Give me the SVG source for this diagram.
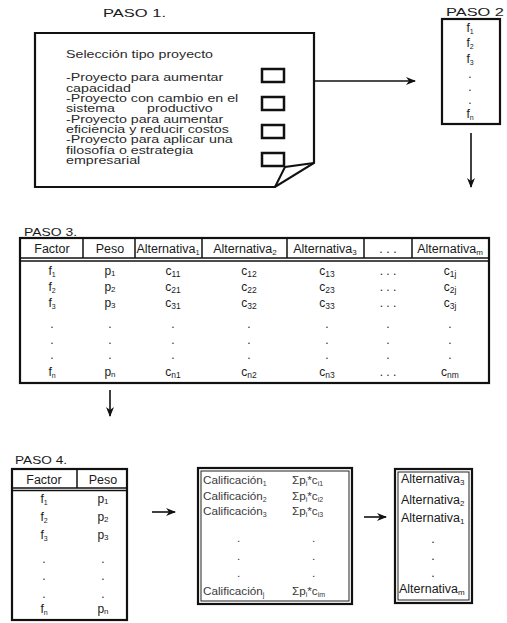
<svg xmlns="http://www.w3.org/2000/svg" width="507" height="623" viewBox="0 0 507 623">
  <defs>
    <marker id="arrow" viewBox="0 0 10 10" refX="9" refY="5" markerWidth="10" markerHeight="10" markerUnits="userSpaceOnUse" orient="auto">
      <path d="M0,1 L10,5 L0,9 L3,5 Z" fill="#111"/>
    </marker>
    <style>
      text { font-family: "Liberation Sans", Arial, sans-serif; fill: #1a1a1a; }
      .lbl { font-size: 11px; }
      .p1 { font-size: 10.7px; fill: #2a2a2a; }
      .hd { font-size: 12.5px; text-anchor: middle; }
      .bd { font-size: 12px; text-anchor: middle; }
      .cal { font-size: 11.7px; fill: #3a3a3a; }
      .alt { font-size: 12.5px; }
      .frame { fill: #fff; stroke: #111; stroke-width: 2.2; }
      .thin { fill: none; stroke: #222; stroke-width: 1; }
      .sep { stroke: #111; stroke-width: 1.5; }
      .box { fill: #fff; stroke: #111; stroke-width: 2.5; }
      .conn { fill: none; stroke: #111; stroke-width: 1.6; marker-end: url(#arrow); }
    </style>
  </defs>
  <rect width="507" height="623" fill="#fff"/>

  <!-- Step 1: project type selection sheet -->
  <g id="paso1">
    <text class="lbl" x="103" y="17" textLength="63" lengthAdjust="spacingAndGlyphs">PASO 1.</text>
    <path class="frame" d="M35,33 H314 V163 L275,187 H35 Z"/>
    <path d="M314,163 L285,167 L275,187" fill="none" stroke="#111" stroke-width="2"/>
    <g transform="translate(66,0) scale(1.33,1)">
      <text class="p1" x="0" y="58">Selección tipo proyecto</text>
      <text class="p1" x="0" y="81.5">-Proyecto para aumentar</text>
      <text class="p1" x="0" y="91.8">capacidad</text>
      <text class="p1" x="0" y="102.1">-Proyecto con cambio en el</text>
      <text class="p1" x="0" y="112.4">sistema</text>
      <text class="p1" x="61" y="112.4">productivo</text>
      <text class="p1" x="0" y="122.7">-Proyecto para aumentar</text>
      <text class="p1" x="0" y="133">eficiencia y reducir costos</text>
      <text class="p1" x="0" y="143.3">-Proyecto para aplicar una</text>
      <text class="p1" x="0" y="153.6">filosofía o estrategia</text>
      <text class="p1" x="0" y="163.9">empresarial</text>
    </g>
    <rect class="box" x="262" y="69" width="22" height="13"/>
    <rect class="box" x="262" y="97" width="22" height="13"/>
    <rect class="box" x="262" y="125" width="22" height="13"/>
    <rect class="box" x="262" y="153" width="22" height="13"/>
  </g>

  <!-- Step 2: list of factors -->
  <g id="paso2">
    <text class="lbl" x="446" y="16" textLength="58" lengthAdjust="spacingAndGlyphs">PASO 2</text>
    <rect class="frame" x="442" y="19" width="58" height="105"/>
    <text class="bd" x="470" y="32">f<tspan font-size="7" dy="2">1</tspan></text>
    <text class="bd" x="470" y="47">f<tspan font-size="7" dy="2">2</tspan></text>
    <text class="bd" x="470" y="63">f<tspan font-size="7" dy="2">3</tspan></text>
    <text class="bd" x="470" y="78">.</text>
    <text class="bd" x="470" y="91">.</text>
    <text class="bd" x="470" y="104">.</text>
    <text class="bd" x="470" y="118">f<tspan font-size="7" dy="2">n</tspan></text>
  </g>

  <!-- Step 3: evaluation matrix -->
  <g id="paso3">
    <text class="lbl" x="24" y="236" font-size="12" textLength="53" lengthAdjust="spacingAndGlyphs">PASO 3.</text>
    <rect class="frame" x="20" y="238" width="469" height="145"/>
    <line class="sep" x1="20" y1="258" x2="489" y2="258"/>
    <line class="sep" x1="20" y1="261" x2="489" y2="261"/>
    <line class="sep" x1="83" y1="238" x2="83" y2="258"/>
    <line class="sep" x1="135" y1="238" x2="135" y2="258"/>
    <line class="sep" x1="202" y1="238" x2="202" y2="258"/>
    <line class="sep" x1="287" y1="238" x2="287" y2="258"/>
    <line class="sep" x1="364" y1="238" x2="364" y2="258"/>
    <line class="sep" x1="412" y1="238" x2="412" y2="258"/>
    <text class="hd" x="52" y="253" font-size="13">Factor</text>
    <text class="hd" x="110" y="253" font-size="13">Peso</text>
    <text class="hd" x="168" y="253" font-size="11.5">Alternativa<tspan font-size="7.5" dy="2">1</tspan></text>
    <text class="hd" x="245" y="253">Alternativa<tspan font-size="8" dy="2">2</tspan></text>
    <text class="hd" x="325" y="253">Alternativa<tspan font-size="8" dy="2">3</tspan></text>
    <text class="hd" x="388" y="253">. . .</text>
    <text class="hd" x="450" y="253">Alternativa<tspan font-size="8" dy="2">m</tspan></text>

    <g class="rows">
      <text class="bd" x="52" y="275">f<tspan font-size="7" dy="2">1</tspan></text>
      <text class="bd" x="110" y="275">p<tspan font-size="8" dy="1">1</tspan></text>
      <text class="bd" x="173" y="275">c<tspan font-size="8.5" dy="2">11</tspan></text>
      <text class="bd" x="249" y="275">c<tspan font-size="8.5" dy="2">12</tspan></text>
      <text class="bd" x="327" y="275">c<tspan font-size="8.5" dy="2">13</tspan></text>
      <text class="bd" x="388" y="275">. . .</text>
      <text class="bd" x="450" y="275">c<tspan font-size="8.5" dy="2">1j</tspan></text>

      <text class="bd" x="52" y="291">f<tspan font-size="7" dy="2">2</tspan></text>
      <text class="bd" x="110" y="291">p<tspan font-size="8" dy="1">2</tspan></text>
      <text class="bd" x="173" y="291">c<tspan font-size="8.5" dy="2">21</tspan></text>
      <text class="bd" x="249" y="291">c<tspan font-size="8.5" dy="2">22</tspan></text>
      <text class="bd" x="327" y="291">c<tspan font-size="8.5" dy="2">23</tspan></text>
      <text class="bd" x="388" y="291">. . .</text>
      <text class="bd" x="450" y="291">c<tspan font-size="8.5" dy="2">2j</tspan></text>

      <text class="bd" x="52" y="307">f<tspan font-size="7" dy="2">3</tspan></text>
      <text class="bd" x="110" y="307">p<tspan font-size="8" dy="1">3</tspan></text>
      <text class="bd" x="173" y="307">c<tspan font-size="8.5" dy="2">31</tspan></text>
      <text class="bd" x="249" y="307">c<tspan font-size="8.5" dy="2">32</tspan></text>
      <text class="bd" x="327" y="307">c<tspan font-size="8.5" dy="2">33</tspan></text>
      <text class="bd" x="388" y="307">. . .</text>
      <text class="bd" x="450" y="307">c<tspan font-size="8.5" dy="2">3j</tspan></text>

      <g>
        <text class="bd" x="52" y="328">.</text><text class="bd" x="110" y="328">.</text><text class="bd" x="173" y="328">.</text><text class="bd" x="249" y="328">.</text><text class="bd" x="327" y="328">.</text><text class="bd" x="388" y="328">.</text><text class="bd" x="450" y="328">.</text>
        <text class="bd" x="52" y="344">.</text><text class="bd" x="110" y="344">.</text><text class="bd" x="173" y="344">.</text><text class="bd" x="249" y="344">.</text><text class="bd" x="327" y="344">.</text><text class="bd" x="388" y="344">.</text><text class="bd" x="450" y="344">.</text>
        <text class="bd" x="52" y="359">.</text><text class="bd" x="110" y="359">.</text><text class="bd" x="173" y="359">.</text><text class="bd" x="249" y="359">.</text><text class="bd" x="327" y="359">.</text><text class="bd" x="388" y="359">.</text><text class="bd" x="450" y="359">.</text>
      </g>

      <text class="bd" x="52" y="376">f<tspan font-size="7" dy="2">n</tspan></text>
      <text class="bd" x="110" y="376">p<tspan font-size="8" dy="1">n</tspan></text>
      <text class="bd" x="173" y="376">c<tspan font-size="8.5" dy="2">n1</tspan></text>
      <text class="bd" x="249" y="376">c<tspan font-size="8.5" dy="2">n2</tspan></text>
      <text class="bd" x="327" y="376">c<tspan font-size="8.5" dy="2">n3</tspan></text>
      <text class="bd" x="388" y="376">. . .</text>
      <text class="bd" x="450" y="376">c<tspan font-size="8.5" dy="2">nm</tspan></text>
    </g>
  </g>

  <!-- Step 4: weights table -->
  <g id="paso4">
    <text class="lbl" x="15" y="464" font-size="12" textLength="52" lengthAdjust="spacingAndGlyphs">PASO 4.</text>
    <rect class="frame" x="12" y="469" width="115" height="151"/>
    <line class="sep" x1="12" y1="488" x2="127" y2="488"/>
    <line class="sep" x1="12" y1="490.5" x2="127" y2="490.5"/>
    <line class="sep" x1="77" y1="469" x2="77" y2="488"/>
    <text class="hd" x="44" y="484" font-size="13">Factor</text>
    <text class="hd" x="103" y="484" font-size="13">Peso</text>
    <text class="bd" x="44" y="503">f<tspan font-size="7" dy="2">1</tspan></text>
    <text class="bd" x="103" y="503">p<tspan font-size="8" dy="1">1</tspan></text>
    <text class="bd" x="44" y="521">f<tspan font-size="7" dy="2">2</tspan></text>
    <text class="bd" x="103" y="521">p<tspan font-size="8" dy="1">2</tspan></text>
    <text class="bd" x="44" y="539">f<tspan font-size="7" dy="2">3</tspan></text>
    <text class="bd" x="103" y="539">p<tspan font-size="8" dy="1">3</tspan></text>
    <text class="bd" x="44" y="563">.</text><text class="bd" x="103" y="563">.</text>
    <text class="bd" x="44" y="580">.</text><text class="bd" x="103" y="580">.</text>
    <text class="bd" x="44" y="598">.</text><text class="bd" x="103" y="598">.</text>
    <text class="bd" x="44" y="613">f<tspan font-size="7" dy="2">n</tspan></text>
    <text class="bd" x="103" y="613">p<tspan font-size="8" dy="1">n</tspan></text>
  </g>

  <!-- Weighted scores -->
  <g id="calificacion">
    <rect class="frame" x="198" y="468" width="154" height="136"/>
    <rect class="thin" x="201" y="471" width="148" height="130"/>
    <text class="cal" x="203" y="484">Calificación<tspan font-size="7" dy="2">1</tspan></text>
    <text class="cal" x="203" y="500">Calificación<tspan font-size="7" dy="2">2</tspan></text>
    <text class="cal" x="203" y="515">Calificación<tspan font-size="7" dy="2">3</tspan></text>
    <text class="cal" x="203" y="595">Calificación<tspan font-size="7" dy="2">j</tspan></text>
    <text class="cal" x="292" y="484" font-size="13">Σp<tspan font-size="7" dy="2">i</tspan><tspan dy="-2">*c</tspan><tspan font-size="7" dy="2">i1</tspan></text>
    <text class="cal" x="292" y="500" font-size="13">Σp<tspan font-size="7" dy="2">i</tspan><tspan dy="-2">*c</tspan><tspan font-size="7" dy="2">i2</tspan></text>
    <text class="cal" x="292" y="515" font-size="13">Σp<tspan font-size="7" dy="2">i</tspan><tspan dy="-2">*c</tspan><tspan font-size="7" dy="2">i3</tspan></text>
    <text class="cal" x="292" y="595" font-size="13">Σp<tspan font-size="7" dy="2">i</tspan><tspan dy="-2">*c</tspan><tspan font-size="7" dy="2">im</tspan></text>
    <text class="cal" x="237" y="542">.</text><text class="cal" x="312" y="542">.</text>
    <text class="cal" x="237" y="560">.</text><text class="cal" x="312" y="560">.</text>
    <text class="cal" x="237" y="577">.</text><text class="cal" x="312" y="577">.</text>
  </g>

  <!-- Ranked alternatives -->
  <g id="ranking">
    <rect class="frame" x="395" y="469" width="77" height="134"/>
    <rect class="thin" x="398" y="472" width="71" height="128"/>
    <text class="alt" x="401" y="483">Alternativa<tspan font-size="8" dy="2">3</tspan></text>
    <text class="alt" x="401" y="504">Alternativa<tspan font-size="8" dy="2">2</tspan></text>
    <text class="alt" x="401" y="522">Alternativa<tspan font-size="8" dy="2">1</tspan></text>
    <text class="alt" x="433" y="543" text-anchor="middle">.</text>
    <text class="alt" x="433" y="560" text-anchor="middle">.</text>
    <text class="alt" x="433" y="577" text-anchor="middle">.</text>
    <text class="alt" x="399" y="593">Alternativa<tspan font-size="8" dy="2">m</tspan></text>
  </g>

  <!-- Flow between steps -->
  <g id="connectors">
    <line class="conn" x1="314" y1="81" x2="415" y2="81"/>
    <line class="conn" x1="471" y1="133" x2="471" y2="187"/>
    <line class="conn" x1="110" y1="390" x2="110" y2="416"/>
    <line class="conn" x1="152" y1="512" x2="175" y2="512"/>
    <line class="conn" x1="364" y1="517" x2="386" y2="517"/>
  </g>
</svg>
